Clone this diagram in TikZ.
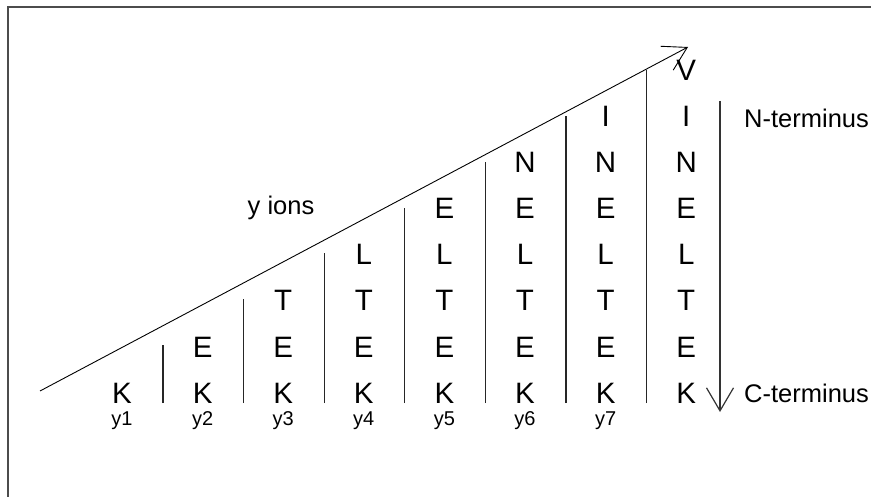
\documentclass[tikz,border=0pt]{standalone}
\usepackage{fontspec}
\setmainfont{Liberation Sans}
\usetikzlibrary{arrows.meta}

\begin{document}
\begin{tikzpicture}[x=1pt, y=-1pt, >={Straight Barb[length=23pt, width=27pt]},
  residue/.style={font=\fontsize{29.5}{29.5}\selectfont, anchor=base, inner sep=0pt},
  ionlabel/.style={font=\fontsize{20}{20}\selectfont, anchor=base, inner sep=0pt},
  termlabel/.style={font=\fontsize{25.5}{25.5}\selectfont, anchor=base west, inner sep=0pt}]
  \useasboundingbox (0,0) rectangle (871,497);
  \draw[black!70, line width=1.5pt] (8,497) -- (8,7) -- (871,7);
  % residues, one column per fragment
  \foreach \col in {1,...,8} {
    \foreach \row/\aa in {1/K,2/E,3/T,4/L,5/E,6/N,7/I,8/V} {
      \ifnum\row>\col\relax\else
        \node[residue] (res\col-\row) at ({122+80.6*(\col-1)},{403-46*(\row-1)}) {\aa};
      \fi
    }
  }
  % separators
  \foreach \k in {1,...,7}
    \draw[black!85, line width=1.2pt] ({163+80.6*(\k-1)},403) -- ({163+80.6*(\k-1)},{345-45.8*(\k-1)});
  \foreach \k in {1,...,7}
    \node[ionlabel] (y\k) at ({122+80.6*(\k-1)},425) {y\k};
  % y ion arrow
  \coordinate (ionstart) at (40,391);
  \coordinate (ionend) at (688,47);
  \draw[->, line width=0.9pt] (ionstart) -- (ionend);
  \node[font=\fontsize{25.5}{25.5}\selectfont, anchor=base, inner sep=0pt] (yions) at (281,215) {y ions};
  % termini
  \coordinate (nterm) at (720,101);
  \coordinate (cterm) at (720,412);
  \draw[->, black!80, line width=1.2pt] (nterm) -- (cterm);
  \node[termlabel] (nlabel) at (744,128) {N-terminus};
  \node[termlabel] (clabel) at (744,402) {C-terminus};
\end{tikzpicture}
\end{document}
